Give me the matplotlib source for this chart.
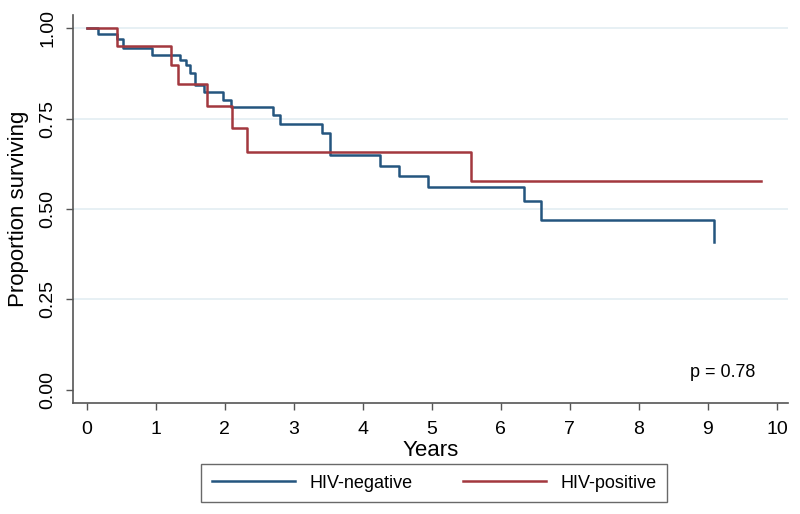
import matplotlib
matplotlib.use("Agg")
import matplotlib.pyplot as plt

plt.rcParams['font.family'] = ['Liberation Sans Narrow', 'Liberation Sans', 'DejaVu Sans']

# Kaplan-Meier estimates
neg_time = [0, 0.17, 0.435, 0.53, 0.94, 1.35, 1.44, 1.50, 1.57, 1.70, 1.98, 2.09,
            2.70, 2.80, 3.41, 3.53, 4.25, 4.52, 4.95, 6.34, 6.58, 9.09]
neg_surv = [1.0, 0.985, 0.970, 0.945, 0.926, 0.912, 0.899, 0.876, 0.843, 0.823, 0.802, 0.783,
            0.760, 0.735, 0.710, 0.650, 0.619, 0.592, 0.562, 0.523, 0.470, 0.410]

pos_time = [0, 0.435, 1.22, 1.32, 1.75, 2.10, 2.32, 5.57, 9.77]
pos_surv = [1.0, 0.95, 0.899, 0.845, 0.786, 0.725, 0.659, 0.578, 0.578]

x_ticks = list(range(0, 11))
y_ticks = [0.0, 0.25, 0.5, 0.75, 1.0]

azul = '#24557f'
rojo = '#a3383e'

fig = plt.figure(figsize=(8, 5.14), dpi=100)
ax = fig.add_axes([0.0916, 0.2154, 0.8934, 0.7556])

for y in y_ticks[1:]:
    ax.axhline(y, color='#e3eef2', lw=1.2, zorder=0)

ax.step(neg_time, neg_surv, where='post', color=azul, lw=1.8, label='HIV-negative')
ax.step(pos_time, pos_surv, where='post', color=rojo, lw=1.8, label='HIV-positive')

ax.set_xlim(-0.194, 10.16)
ax.set_ylim(-0.037, 1.037)
ax.set_xticks(x_ticks)
ax.set_yticks(y_ticks)
ax.set_yticklabels([f"{v:.2f}" for v in y_ticks], rotation=90, va='center')
ax.tick_params(axis='both', labelsize=14, length=5, color='#555555', width=1)
ax.tick_params(axis='x', pad=8)
ax.tick_params(axis='y', pad=7)

for lado in ['top', 'right']:
    ax.spines[lado].set_visible(False)
for lado in ['left', 'bottom']:
    ax.spines[lado].set_color('#555555')
    ax.spines[lado].set_linewidth(1.2)

ax.set_xlabel("Years", fontsize=16, labelpad=1)
ax.set_ylabel("Proportion surviving", fontsize=16, labelpad=8)

ax.text(9.69, 0.047, "p = 0.78", fontsize=13, ha='right', va='center',
        bbox=dict(facecolor='white', edgecolor='none', pad=4))

h, l = ax.get_legend_handles_labels()
leg = fig.legend(h, l, loc='center', bbox_to_anchor=(0.5425, 0.0603), ncol=2, fontsize=13,
                 frameon=True, fancybox=False, handlelength=4.6, columnspacing=2.8,
                 borderpad=0.6, handletextpad=0.8)
leg.get_frame().set_edgecolor('#444444')
leg.get_frame().set_linewidth(1.0)

fig.savefig("out.png", dpi=100)
